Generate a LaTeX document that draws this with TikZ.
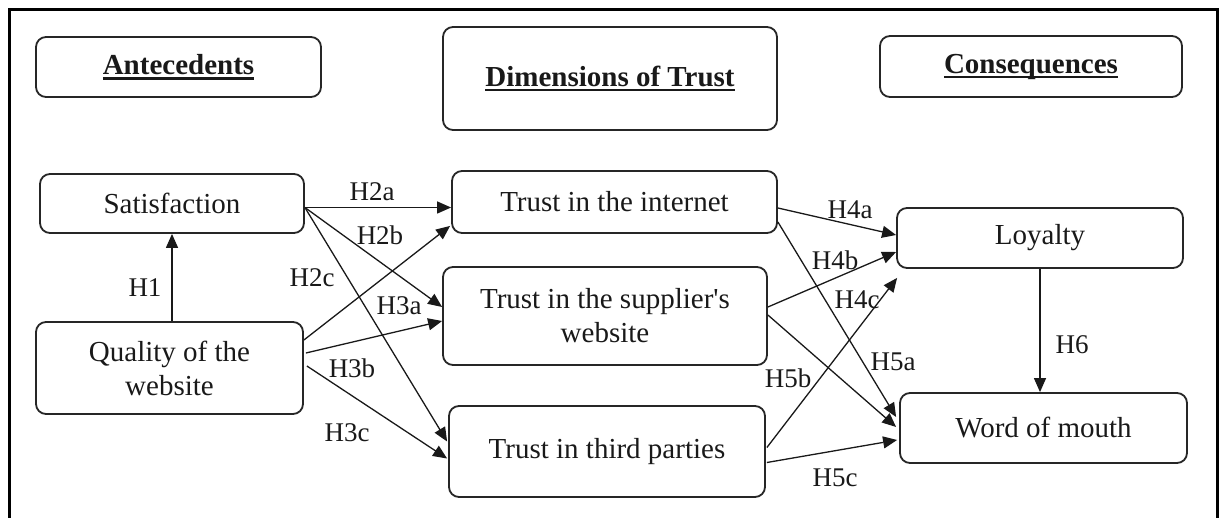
\documentclass[tikz,border=0pt]{standalone}
\usepackage{fontspec}
\setmainfont{Liberation Serif}[Ligatures=TeXOff]
\usetikzlibrary{arrows.meta,calc}
\newcommand\hdul[1]{{\setbox0\hbox{#1}\rlap{\rule[-0.17em]{\wd0}{0.075em}}\box0}}
\begin{document}
\begin{tikzpicture}[x=1pt,y=-1pt,
  box/.style={draw=black!85, line width=1.8pt, rounded corners=10pt, align=center,
    font=\fontsize{29}{34}\selectfont, inner sep=0pt, text=black!90},
  hd/.style={box, font=\fontsize{29}{34}\selectfont\bfseries},
  lab/.style={font=\fontsize{27}{30}\selectfont, inner sep=0pt, text=black!90},
  arr/.style={line width=1.3pt, draw=black!90, -{Triangle[length=14pt,width=12pt]}}]
\useasboundingbox (0,0) rectangle (1223,518);
\draw[line width=3pt] (9.5,518) -- (9.5,9.5) -- (1217,9.5) -- (1217,518);

% headers
\node[hd, minimum width=285pt, minimum height=60pt] (ant) at (178.5,67) {\hdul{Antecedents}};
\node[hd, minimum width=334pt, minimum height=103pt] (dim) at (610,78.5) {\hdul{Dimensions of Trust}};
\node[hd, minimum width=302pt, minimum height=61pt] (con) at (1031,66.5) {\hdul{Consequences}};

% constructs
\node[box, minimum width=264pt, minimum height=59pt] (sat) at (172,203.5) {Satisfaction};
\node[box, minimum width=267pt, minimum height=92pt] (qual) at (169.5,368) {Quality of the\\website};
\node[box, minimum width=325pt, minimum height=62pt] (int) at (614.5,202) {Trust in the internet};
\node[box, minimum width=324pt, minimum height=98pt] (sup) at (605,316) {Trust in the supplier's\\website};
\node[box, minimum width=316pt, minimum height=91pt] (thi) at (607,451.5) {Trust in third parties};
\node[box, minimum width=286pt, minimum height=60pt] (loy) at (1040,238) {Loyalty};
\node[box, minimum width=287pt, minimum height=70pt] (wom) at (1043.5,428) {Word of mouth};

% connectors
\coordinate (s1) at ($(sat.east)+(0,4)$);
\draw[arr] (sat.south |- qual.north) -- (sat.south);
\draw[arr] (s1) -- (s1 -| int.west);
\draw[arr] (s1) -- ($(sup.west)+(0,-9)$);
\draw[arr] (s1) -- ($(thi.west)+(-1,-10)$);
\draw[arr] ($(qual.east)+(0,-28)$) -- ($(int.south west)+(-1,-8)$);
\draw[arr] ($(qual.east)+(2,-15)$) -- ($(sup.west)+(0,5)$);
\draw[arr] ($(qual.east)+(3,-2)$) -- ($(thi.west)+(-1,7)$);
\draw[arr] ($(int.east)+(0,6)$) -- ($(loy.west)+(0,-3)$);
\draw[arr] ($(int.east)+(0,20)$) -- ($(wom.west)+(-3,-11)$);
\draw[arr] ($(sup.east)+(0,-9)$) -- ($(loy.west)+(0,14)$);
\draw[arr] ($(sup.east)+(0,-1)$) -- ($(wom.west)+(-3,-1)$);
\draw[arr] ($(thi.east)+(1,-4)$) -- ($(loy.south west)+(1,9)$);
\draw[arr] ($(thi.east)+(1,11)$) -- ($(wom.west)+(-2,12)$);
\draw[arr] (loy.south) -- (loy.south |- wom.north);

% labels
\node[lab] (l1) at (145,288) {H1};
\node[lab] (l2a) at (372,192) {H2a};
\node[lab] (l2b) at (380,235) {H2b};
\node[lab] (l2c) at (312,278) {H2c};
\node[lab] (l3a) at (399,306) {H3a};
\node[lab] (l3b) at (352,368) {H3b};
\node[lab] (l3c) at (347,433) {H3c};
\node[lab] (l4a) at (850,210) {H4a};
\node[lab] (l4b) at (835,260) {H4b};
\node[lab] (l4c) at (857,300) {H4c};
\node[lab] (l5a) at (893,362) {H5a};
\node[lab] (l5b) at (788,378) {H5b};
\node[lab] (l5c) at (835,478) {H5c};
\node[lab] (l6) at (1072,345) {H6};
\end{tikzpicture}
\end{document}
